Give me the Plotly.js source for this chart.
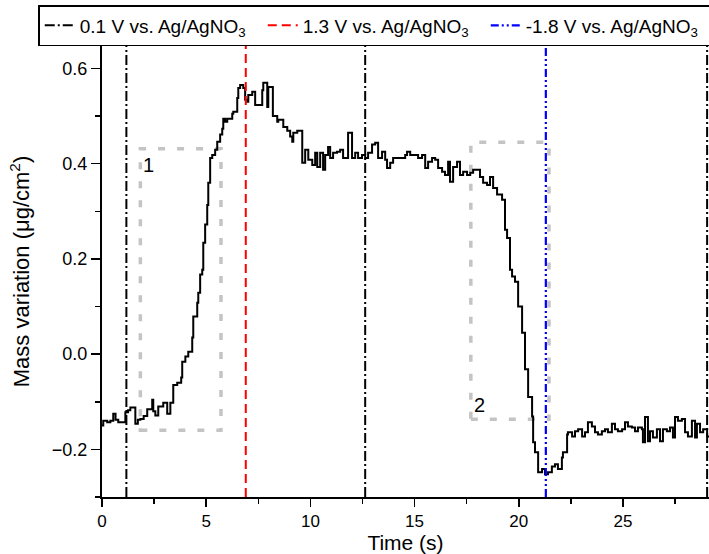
<!DOCTYPE html>
<html>
<head>
<meta charset="utf-8">
<script src="https://cdn.plot.ly/plotly-3.0.1.min.js"></script>
<style>
html,body{margin:0;padding:0;overflow:hidden;background:#fff;}
#chart{width:760px;height:566px;}
</style>
</head>
<body>
<div id="chart"></div>
<script>
// ---- data ----
var time = [
  0.00,0.06,0.25,0.40,0.54,0.65,0.78,1.02,1.12,1.25,
  1.36,1.60,1.72,1.84,2.00,2.17,2.41,2.46,2.56,2.70,
  2.94,3.13,3.28,3.42,3.61,3.80,3.85,4.00,4.14,4.33,
  4.38,4.57,4.62,4.71,4.81,4.86,4.95,5.05,5.10,5.19,
  5.29,5.43,5.53,5.67,5.77,5.82,5.91,6.01,6.25,6.30,
  6.49,6.54,6.63,6.78,6.87,6.97,7.02,7.21,7.35,7.69,
  7.74,7.93,7.98,8.20,8.41,8.46,8.70,8.89,9.03,9.13,
  9.18,9.37,9.61,9.75,9.90,10.09,10.23,10.33,10.47,10.61,
  10.71,10.85,10.95,11.09,11.28,11.43,11.57,11.81,12.00,12.15,
  12.29,12.48,12.63,12.77,12.96,13.11,13.25,13.44,13.59,13.68,
  13.83,13.97,14.55,14.64,14.79,15.17,15.36,15.51,15.65,15.84,
  15.99,16.13,16.32,16.46,16.61,16.70,16.85,17.04,17.18,17.33,
  17.52,17.67,17.81,18.14,18.29,18.48,18.62,18.77,18.96,19.20,
  19.34,19.44,19.58,19.68,19.82,19.97,20.16,20.30,20.45,20.64,
  20.69,20.78,20.93,21.12,21.26,21.40,21.59,21.74,21.88,22.07,
  22.12,22.32,22.36,22.56,22.70,22.85,23.04,23.18,23.32,23.51,
  23.66,23.80,23.99,24.14,24.28,24.47,24.62,24.76,24.96,25.10,
  25.24,25.43,25.58,25.72,25.91,25.96,26.06,26.20,26.30,26.44,
  26.63,26.78,26.92,27.11,27.26,27.40,27.50,27.64,27.83,27.98,
  28.12,28.31,28.46,28.55,28.70,28.85,29.04,29.13
];
var massVariation = [
  -0.150,-0.140,-0.143,-0.140,-0.125,-0.138,-0.143,-0.143,-0.122,-0.118,
  -0.112,-0.146,-0.138,-0.136,-0.130,-0.116,-0.096,-0.120,-0.129,-0.110,
  -0.102,-0.125,-0.102,-0.065,-0.060,-0.049,-0.016,-0.005,0.005,0.035,
  0.079,0.108,0.129,0.167,0.177,0.234,0.272,0.313,0.360,0.412,
  0.418,0.429,0.446,0.461,0.473,0.494,0.488,0.494,0.505,0.509,
  0.538,0.559,0.565,0.559,0.534,0.530,0.544,0.551,0.523,0.554,
  0.570,0.519,0.561,0.500,0.488,0.492,0.477,0.469,0.457,0.446,
  0.465,0.469,0.402,0.429,0.408,0.397,0.423,0.393,0.423,0.387,
  0.418,0.435,0.412,0.423,0.425,0.429,0.412,0.465,0.412,0.423,
  0.412,0.418,0.412,0.423,0.440,0.444,0.412,0.425,0.408,0.391,
  0.402,0.412,0.418,0.425,0.418,0.412,0.418,0.391,0.404,0.412,
  0.408,0.391,0.383,0.376,0.404,0.362,0.393,0.404,0.376,0.383,
  0.376,0.381,0.387,0.372,0.360,0.355,0.372,0.349,0.335,0.324,
  0.261,0.244,0.177,0.163,0.152,0.100,0.045,-0.032,-0.090,-0.131,
  -0.185,-0.206,-0.248,-0.241,-0.252,-0.248,-0.236,-0.231,-0.241,-0.217,
  -0.206,-0.169,-0.164,-0.173,-0.162,-0.158,-0.173,-0.164,-0.143,-0.152,
  -0.164,-0.169,-0.162,-0.158,-0.164,-0.146,-0.158,-0.162,-0.158,-0.143,
  -0.152,-0.154,-0.162,-0.154,-0.158,-0.185,-0.132,-0.183,-0.162,-0.175,
  -0.158,-0.183,-0.158,-0.162,-0.154,-0.175,-0.132,-0.140,-0.136,-0.164,
  -0.173,-0.140,-0.175,-0.146,-0.164,-0.158,-0.173,-0.173
];
// potential-step times (s)
var stepTimes01 = [1.17, 12.63, 29.04];
var stepTimes13 = [6.90];
var stepTimes18 = [21.30];
var legendNames = ['0.1 V vs. Ag/AgNO<sub>3</sub>', '1.3 V vs. Ag/AgNO<sub>3</sub>', '-1.8 V vs. Ag/AgNO<sub>3</sub>'];
// highlighted regions
var boxX0 = [1.84, 17.70];
var boxX1 = [5.71, 21.45];
var boxY0 = [-0.160, -0.137];
var boxY1 = [0.431, 0.445];
var boxLabels = ['1', '2'];
var xRange = [0, 29.13];
var yRange = [-0.3, 0.647];

// ---- build ----
var FONT = 'Liberation Sans, Arial, sans-serif';
function vlines(ts) {
  var xs = [], ys = [];
  ts.forEach(function (t, i) {
    if (i > 0) { xs.push(null); ys.push(null); }
    xs.push(t, t); ys.push(yRange[0], yRange[1]);
  });
  return {x: xs, y: ys};
}
var v1 = vlines(stepTimes01), v2 = vlines(stepTimes13), v3 = vlines(stepTimes18);

var traces = [
  {x: time, y: massVariation, mode: 'lines', line: {shape: 'hv', color: '#000', width: 2}, showlegend: false, hoverinfo: 'skip'},
  {x: v1.x, y: v1.y, mode: 'lines', name: legendNames[0], line: {color: '#000', width: 2, dash: '10px,3px,2px,3px'}},
  {x: v2.x, y: v2.y, mode: 'lines', name: legendNames[1], line: {color: '#ff0000', width: 2, dash: '9px,5px'}},
  {x: v3.x, y: v3.y, mode: 'lines', name: legendNames[2], line: {color: '#0000ff', width: 2.2, dash: '8px,3px,2px,3px,2px,3px'}}
];

var shapes = boxX0.map(function (x0, i) {
  return {type: 'rect', xref: 'x', yref: 'y', x0: x0, x1: boxX1[i], y0: boxY0[i], y1: boxY1[i],
          line: {color: '#c4c4c4', width: 3.5, dash: '7px,12px'}, layer: 'below'};
});
var annotations = [
  {xref: 'x', yref: 'y', x: boxX0[0], y: boxY1[0], text: boxLabels[0], showarrow: false,
   xanchor: 'left', yanchor: 'top', xshift: 1, yshift: -3, font: {family: FONT, size: 20, color: '#000'}},
  {xref: 'x', yref: 'y', x: boxX0[1], y: boxY0[1], text: boxLabels[1], showarrow: false,
   xanchor: 'left', yanchor: 'bottom', xshift: 1, yshift: 1, font: {family: FONT, size: 20, color: '#000'}}
];

var layout = {
  width: 760, height: 566,
  margin: {l: 102, r: 51, t: 46, b: 69, autoexpand: false},
  paper_bgcolor: '#fff', plot_bgcolor: '#fff',
  font: {family: FONT, color: '#000'},
  showlegend: true,
  legend: {
    orientation: 'h', x: -0.105, xanchor: 'left', y: 1, yanchor: 'bottom',
    bgcolor: '#fff', bordercolor: '#000', borderwidth: 1.5,
    entrywidth: 178, entrywidthmode: 'pixels',
    font: {family: FONT, size: 19, color: '#000'}, traceorder: 'normal'
  },
  xaxis: {
    range: xRange, tick0: 0, dtick: 5, ticks: 'outside', ticklen: 8, tickwidth: 1.5, tickcolor: '#000',
    minor: {dtick: 2.5, ticks: 'outside', ticklen: 5, tickwidth: 1.5, tickcolor: '#000'},
    showline: true, linewidth: 2, linecolor: '#000', showgrid: false, zeroline: false,
    automargin: true,
    tickfont: {family: FONT, size: 17, color: '#000'},
    title: {text: 'Time (s)', font: {family: FONT, size: 21, color: '#000'}, standoff: 1}
  },
  yaxis: {
    range: yRange, tick0: 0, dtick: 0.2, tickformat: '.1f', ticks: 'outside', ticklen: 9, tickwidth: 1.5, tickcolor: '#000',
    minor: {dtick: 0.1, ticks: 'outside', ticklen: 5, tickwidth: 1.5, tickcolor: '#000'},
    showline: true, linewidth: 2, linecolor: '#000', showgrid: false, zeroline: false,
    tickfont: {family: FONT, size: 18, color: '#000'},
    title: {text: 'Mass variation (μg/cm<sup>2</sup>)', font: {family: FONT, size: 22, color: '#000'}, standoff: 16}
  },
  shapes: shapes,
  annotations: annotations
};

Plotly.newPlot('chart', traces, layout, {displayModeBar: false, staticPlot: true});
</script>
</body>
</html>
